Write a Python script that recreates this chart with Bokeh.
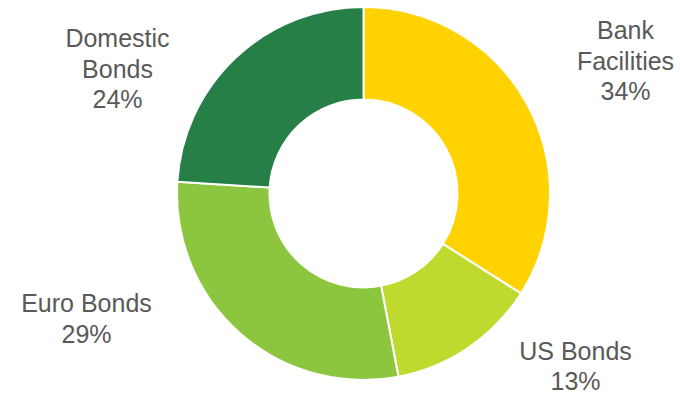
import math
from bokeh.plotting import figure
from bokeh.models import Range1d, ColumnDataSource
from bokeh.embed import file_html
from bokeh.resources import INLINE
from bokeh.core.properties import value

# ---- data ----
categories = ["Bank Facilities", "US Bonds", "Euro Bonds", "Domestic Bonds"]
shares = [34, 13, 29, 24]
label_lines = [["Bank", "Facilities"], ["US Bonds"], ["Euro Bonds"], ["Domestic", "Bonds"]]
colors = ["#FFD200", "#C0D92F", "#8CC63F", "#257F47"]

# ---- layout (picture pixel coordinates) ----
W, H = 680, 394
CX, CY = 363, 193
R_OUT, R_IN = 186.5, 94
label_anchor = [(625, 29.5), (575, 350), (86, 302.5), (117, 37.5)]
LINE_H = 30.5
FONT_SIZE = "25px"
TEXT_COLOR = "#595959"


def ty(screen_y):
    return H - screen_y


p = figure(width=W, height=H, output_backend="svg", toolbar_location=None,
           x_range=Range1d(0, W), y_range=Range1d(0, H),
           x_axis_type=None, y_axis_type=None, min_border=0)
p.outline_line_color = None
p.xgrid.visible = False
p.ygrid.visible = False
p.background_fill_color = "white"
p.border_fill_color = "white"

total = sum(shares)
starts, ends = [], []
cum = 0
for s in shares:
    starts.append(math.pi / 2 - 2 * math.pi * cum / total)
    cum += s
    ends.append(math.pi / 2 - 2 * math.pi * cum / total)

wsrc = ColumnDataSource(dict(x=[CX] * len(shares), y=[ty(CY)] * len(shares),
                             start=starts, end=ends, color=colors, cat=categories))
p.annular_wedge(x="x", y="y", inner_radius=R_IN, outer_radius=R_OUT,
                start_angle="start", end_angle="end", direction="clock",
                fill_color="color", line_color="white", line_width=2, source=wsrc)

tx, tyv, tt = [], [], []
for lines, v, (ax, ay) in zip(label_lines, shares, label_anchor):
    for i, line in enumerate(lines + [f"{v}%"]):
        tx.append(ax)
        tyv.append(ty(ay + i * LINE_H))
        tt.append(line)

tsrc = ColumnDataSource(dict(x=tx, y=tyv, text=tt))
p.text(x="x", y="y", text="text", source=tsrc, text_align="center",
       text_baseline="alphabetic", text_font=value("Liberation Sans"),
       text_font_size=FONT_SIZE, text_color=TEXT_COLOR)

open("out.html", "w").write(file_html(p, INLINE))
